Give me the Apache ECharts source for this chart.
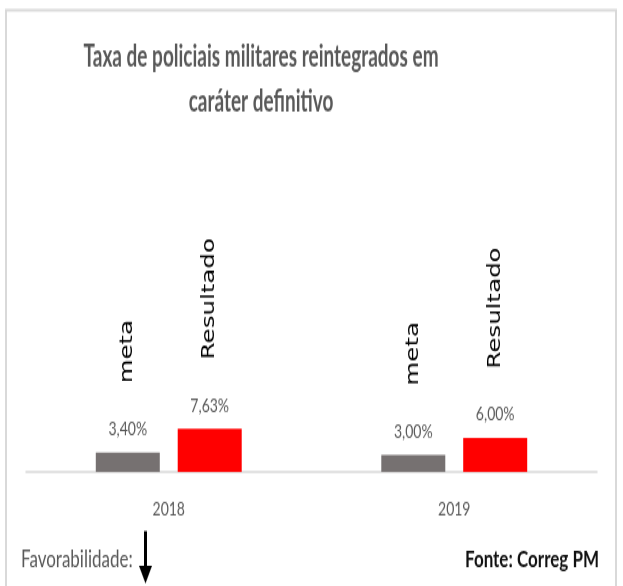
<!DOCTYPE html>
<html>
<head>
<meta charset="utf-8">
<script src="https://cdn.jsdelivr.net/npm/echarts@6/dist/echarts.min.js"></script>
<style>
  html, body { margin: 0; padding: 0; background: #fff; }
  #wrap { width: 623px; height: 586px; position: relative; overflow: hidden; }
  /* o gráfico original está esticado na vertical */
  #main { position: absolute; left: 0; top: 0; width: 623px; height: 431px; transform: scaleY(1.36); transform-origin: 0 0; }
</style>
</head>
<body>
<div id="wrap"><div id="main"></div></div>
<script>
  // dados
  const categories = ['2018', '2019'];
  const seriesNames = ['meta', 'Resultado'];
  const metaValues = [3.40, 3.00];
  const resultadoValues = [7.63, 6.00];

  const fmtPct = v => v.toFixed(2).replace('.', ',') + '%';

  // rótulo rotacionado com o nome da série, acima do valor
  function nameMarks (values) {
    return {
      symbolSize: 0,
      label: {
        show: true,
        formatter: p => p.seriesName,
        rotate: 90,
        position: 'top',
        distance: 51,
        align: 'left',
        verticalAlign: 'middle',
        color: '#000',
        fontFamily: 'DejaVu Sans',
        fontSize: 18
      },
      data: values.map((v, i) => ({ coord: [i, v] }))
    }
  }

  function barSeries (name, values, color) {
    return {
      name: name,
      type: 'bar',
      barWidth: 64,
      barGap: '28%',
      data: values,
      itemStyle: { color: color },
      label: {
        show: true,
        position: 'top',
        distance: 10,
        formatter: p => fmtPct(p.value),
        color: '#595959',
        fontFamily: 'Lato',
        fontSize: 14
      },
      markPoint: nameMarks(values)
    }
  }

  const myChart = echarts.init(document.getElementById('main'))

  const option = {
    animation: false,
    grid: { left: 26, right: 26, top: 180, bottom: 84 },
    xAxis: {
      type: 'category',
      data: categories,
      axisTick: { show: false },
      axisLine: { lineStyle: { color: '#d9d9d9', width: 1.5 } },
      axisLabel: { color: '#595959', fontFamily: 'Lato', fontSize: 14, margin: 20 }
    },
    yAxis: {
      type: 'value',
      min: 0,
      max: 40,
      show: false,
      splitLine: { show: false }
    },
    series: [
      barSeries(seriesNames[0], metaValues, '#767171'),
      barSeries(seriesNames[1], resultadoValues, '#ff0000')
    ],
    graphic: [
      {
        type: 'rect',
        shape: { x: 6, y: 7.5, width: 610, height: 500 },
        style: { fill: 'none', stroke: '#d9d9d9', lineWidth: 2 },
        silent: true
      },
      {
        type: 'text',
        x: 261,
        y: 58,
        scaleY: 1.18,
        style: {
          text: 'Taxa de policiais militares reintegrados em\ncaráter definitivo',
          fontFamily: 'Lato',
          fontWeight: 'bold',
          fontSize: 19,
          lineHeight: 28,
          fill: '#595959',
          align: 'center',
          verticalAlign: 'middle'
        }
      },
      {
        type: 'text',
        x: 21,
        y: 412,
        style: {
          text: 'Favorabilidade:',
          fontFamily: 'Lato',
          fontSize: 17,
          fill: '#595959',
          align: 'left',
          verticalAlign: 'middle'
        }
      },
      {
        type: 'text',
        x: 599,
        y: 412,
        style: {
          text: 'Fonte: Correg PM',
          fontFamily: 'Lato',
          fontWeight: 'bold',
          fontSize: 17,
          fill: '#111',
          align: 'right',
          verticalAlign: 'middle'
        }
      },
      // seta de favorabilidade (para baixo)
      {
        type: 'line',
        shape: { x1: 145.5, y1: 390.5, x2: 145.5, y2: 418 },
        style: { stroke: '#000', lineWidth: 3 }
      },
      {
        type: 'polygon',
        shape: { points: [[139, 416], [152, 416], [145.5, 429]] },
        style: { fill: '#000' }
      }
    ]
  };

  myChart.setOption(option)
</script>
</body>
</html>
